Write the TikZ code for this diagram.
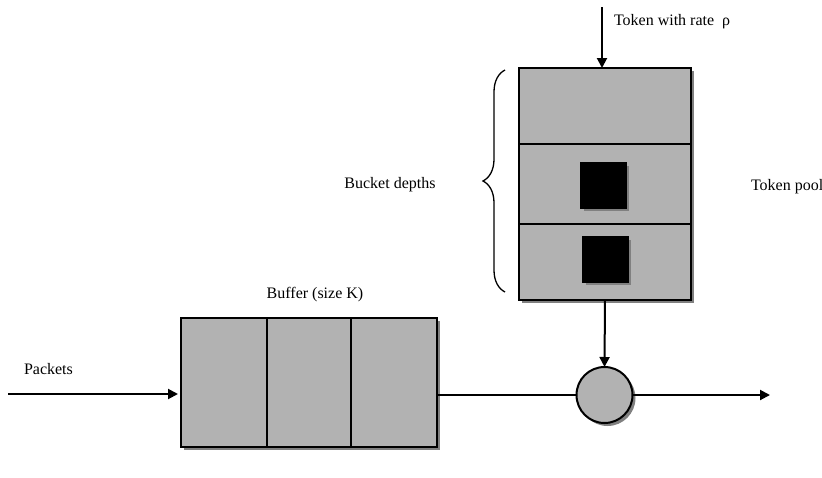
\documentclass[tikz,border=0pt]{standalone}
\usepackage{fontspec}
\setmainfont{Liberation Serif}
\usetikzlibrary{arrows.meta,shadows,decorations.pathreplacing}

\begin{document}
\begin{tikzpicture}[
        x=1pt, y=-1pt, font=\fontsize{16}{19}\selectfont, line width=2,
        box/.style={draw, fill=gray!60, inner sep=0, outer sep=0,
            drop shadow={shadow xshift=3pt, shadow yshift=-3pt, fill=black!50, opacity=1}},
        lbl/.style={inner sep=0},
        arr/.style={-{Triangle[length=10pt,width=10pt]}}
    ]
    \useasboundingbox (0,0) rectangle (822,477);

    % token pool
    \node[box, minimum width=172pt, minimum height=232pt] (pool) at (605,184) {};
    \draw (pool.north west) ++(0,76) -- ++(172,0);
    \draw (pool.north west) ++(0,156) -- ++(172,0);
    \node[box, fill=black, minimum size=45pt] (tok1) at (603,185) {};
    \node[box, fill=black, minimum size=45pt] (tok2) at (605,259) {};

    % buffer
    \node[box, minimum width=256pt, minimum height=129pt] (buffer) at (309,382.5) {};
    \draw (buffer.north west) ++(86,0) -- ++(0,129);
    \draw (buffer.north west) ++(170,0) -- ++(0,129);

    % server
    \node[box, circle, minimum size=56pt] (srv) at (604.5,395) {};

    % labels
    \node[lbl, anchor=west] (rate) at (613,22) {Token with rate\ \ ρ};
    \node[lbl] (depth) at (390,185) {Bucket depths};
    \node[lbl, anchor=west] (poollbl) at (750,187) {Token pool};
    \node[lbl] (buflbl) at (315,295) {Buffer (size K)};
    \node[lbl, anchor=west] (pkt) at (23,369) {Packets};

    % bucket depth brace
    \coordinate (btop) at (505,70);
    \coordinate (bbot) at (505,292);
    \draw[line width=1.3, decorate, decoration={brace, amplitude=22pt}] (bbot) -- (btop);

    % arrows
    \coordinate (src) at (602,7);
    \coordinate (in) at (8,394);
    \coordinate (out) at (770,395);
    \draw[arr] (src) -- (src |- pool.north);
    \draw[arr] (pool.south) -- (srv.north);
    \draw[arr, shorten >=3pt] (in) -- (in -| buffer.west);
    \draw (srv.west -| buffer.east) -- (srv.west);
    \draw[arr] (srv.east) -- (out);

\end{tikzpicture}
\end{document}
